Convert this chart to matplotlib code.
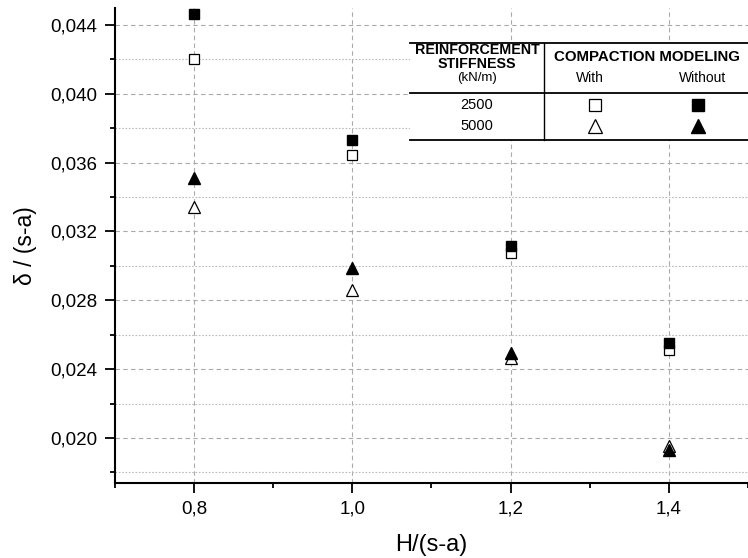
import numpy as np
import matplotlib.pyplot as plt
from matplotlib.ticker import FuncFormatter, MultipleLocator

plt.rcParams['font.family'] = ['Liberation Sans', 'DejaVu Sans']

x = [0.8, 1.0, 1.2, 1.4]
k2500_with = [0.0420, 0.03645, 0.03072, 0.0251]
k2500_without = [0.04464, 0.03733, 0.03113, 0.02551]
k5000_with = [0.03344, 0.02858, 0.02464, 0.01953]
k5000_without = [0.0351, 0.02986, 0.02493, 0.0193]

fig = plt.figure(figsize=(7.48, 5.58), dpi=100)
ax = fig.add_axes([0.1537, 0.1344, 0.8463, 0.8513])

ms = 7.5
ax.plot(x, k2500_with, ls='none', marker='s', ms=ms, mfc='white', mec='black', mew=0.9, zorder=3)
ax.plot(x, k2500_without, ls='none', marker='s', ms=ms, mfc='black', mec='black', zorder=3)
ax.plot(x, k5000_with, ls='none', marker='^', ms=ms + 1.5, mfc='white', mec='black', mew=0.9, zorder=3)
ax.plot(x, k5000_without, ls='none', marker='^', ms=ms + 1.5, mfc='black', mec='black', zorder=3)

ax.set_xlim(0.7, 1.5)
ax.set_ylim(0.01738, 0.04499)
ax.xaxis.set_major_locator(MultipleLocator(0.2))
ax.xaxis.set_minor_locator(MultipleLocator(0.1))
ax.yaxis.set_major_locator(MultipleLocator(0.004))
ax.yaxis.set_minor_locator(MultipleLocator(0.002))
ax.xaxis.set_major_formatter(FuncFormatter(lambda v, p: '{:.1f}'.format(v).replace('.', ',')))
ax.yaxis.set_major_formatter(FuncFormatter(lambda v, p: '{:.3f}'.format(v).replace('.', ',')))

ax.grid(True, which='major', axis='both', ls=(0, (4, 3)), color='#aaaaaa', lw=0.8)
ax.grid(True, which='minor', axis='y', ls=(0, (1.5, 1.5)), color='#bbbbbb', lw=0.8)
ax.set_axisbelow(True)

for s in ['top', 'right']:
    ax.spines[s].set_visible(False)
for s in ['left', 'bottom']:
    ax.spines[s].set_linewidth(1.5)
ax.tick_params(which='major', direction='out', length=7.5, width=1.3, labelsize=13.5, pad=5)
ax.tick_params(which='minor', direction='out', length=3.8, width=1.3)

ax.set_xlabel('H/(s-a)', fontsize=17, labelpad=12)
ax.set_ylabel('δ / (s-a)', fontsize=16.5, labelpad=10)

# legend table
x0, x1, xv = 0.466, 1.0, 0.678
yt, yh, yb = 0.926, 0.821, 0.722
ax.add_patch(plt.Rectangle((x0, yb), x1 - x0, yt - yb, transform=ax.transAxes,
                           facecolor='white', edgecolor='none', zorder=4))
for yy in [yt, yh, yb]:
    ax.plot([x0, x1], [yy, yy], transform=ax.transAxes, color='black', lw=1.3, zorder=5, clip_on=False)
ax.plot([xv, xv], [yt, yb], transform=ax.transAxes, color='black', lw=1.0, zorder=5)

c1 = (0.466 + 0.678) / 2
kw = dict(transform=ax.transAxes, ha='center', va='center', zorder=6)
ax.text(c1, 0.897, 'REINFORCEMENT\nSTIFFNESS', fontsize=10.3, fontweight='bold', linespacing=0.95, **kw)
ax.text(c1, 0.852, '(kN/m)', fontsize=9.5, **kw)
ax.text(0.84, 0.897, 'COMPACTION MODELING', fontsize=10.8, fontweight='bold', **kw)
ax.text(0.75, 0.852, 'With', fontsize=10, **kw)
ax.text(0.929, 0.852, 'Without', fontsize=10, **kw)
ax.text(c1, 0.796, '2500', fontsize=10.5, **kw)
ax.text(c1, 0.752, '5000', fontsize=10.5, **kw)
ax.plot([0.758], [0.796], transform=ax.transAxes, marker='s', ms=ms + 1, mfc='white', mec='black', mew=0.9, zorder=6)
ax.plot([0.921], [0.796], transform=ax.transAxes, marker='s', ms=ms + 1, mfc='black', mec='black', zorder=6)
ax.plot([0.758], [0.752], transform=ax.transAxes, marker='^', ms=ms + 2.5, mfc='white', mec='black', mew=0.9, zorder=6)
ax.plot([0.921], [0.752], transform=ax.transAxes, marker='^', ms=ms + 2.5, mfc='black', mec='black', zorder=6)

plt.savefig('out.png', dpi=100)
